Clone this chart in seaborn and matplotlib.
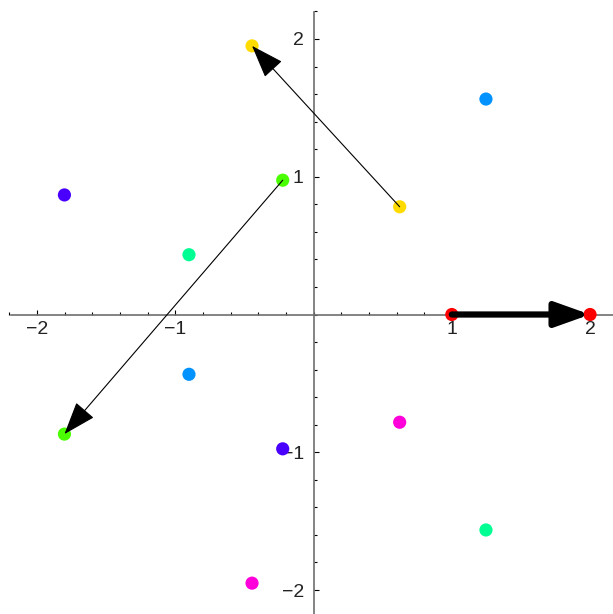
import matplotlib
matplotlib.use("Agg")
import matplotlib.pyplot as plt
from matplotlib.patches import FancyArrowPatch
from matplotlib.ticker import MultipleLocator, FixedLocator
import colorsys
import pandas as pd
import seaborn as sns

# Seventh roots of unity (colour index k) and their images 2*z^2
hue_index = [0, 1, 2, 3, 4, 5, 6]
root_x = [1.0, 0.623, -0.223, -0.901, -0.901, -0.223, 0.623]
root_y = [0.0, 0.782, 0.975, 0.434, -0.434, -0.975, -0.782]
image_x = [2.0, -0.445, -1.802, 1.247, 1.247, -1.802, -0.445]
image_y = [0.0, 1.950, -0.868, -1.564, 1.564, 0.868, -1.950]

# Which root -> image pairs get an arrow, and the arrow stroke width (pt)
arrow_index = [0, 1, 2]
arrow_width = [4.5, 0.8, 0.8]

tick_values = [-2, -1, 1, 2]
tick_labels = ["\u22122", "\u22121", "1", "2"]

palette = {k: colorsys.hsv_to_rgb(k / 7, 1.0, 1.0) for k in hue_index}

points = pd.DataFrame({
    "x": root_x + image_x,
    "y": root_y + image_y,
    "k": hue_index + hue_index,
})

sns.set_style("white")
plt.rcParams["font.family"] = ["Liberation Sans", "DejaVu Sans"]

fig = plt.figure(figsize=(6.13, 6.14), dpi=100)
ax = fig.add_axes([0, 0, 1, 1])

sns.scatterplot(data=points, x="x", y="y", hue="k", palette=palette,
                s=90, linewidth=0, legend=False, ax=ax, zorder=3)

for i, lw in zip(arrow_index, arrow_width):
    arr = FancyArrowPatch((root_x[i], root_y[i]), (image_x[i], image_y[i]),
                          arrowstyle="-|>,head_length=21,head_width=7.5",
                          mutation_scale=1, shrinkA=0, shrinkB=0,
                          color="black", linewidth=lw, zorder=4)
    ax.add_patch(arr)

ax.set_xlim(-2.268, 2.166)
ax.set_ylim(-2.174, 2.283)
ax.set_xlabel("")
ax.set_ylabel("")

axis_color = "#6e6e6e"
for side in ("top", "right"):
    ax.spines[side].set_visible(False)
ax.spines["left"].set_position(("data", 0))
ax.spines["bottom"].set_position(("data", 0))
ax.spines["bottom"].set_bounds(-2.19, 2.166)
ax.spines["left"].set_bounds(-2.174, 2.196)
for side in ("left", "bottom"):
    ax.spines[side].set_color(axis_color)
    ax.spines[side].set_linewidth(1.2)
    ax.spines[side].set_zorder(1)

ax.xaxis.set_major_locator(FixedLocator(tick_values))
ax.yaxis.set_major_locator(FixedLocator(tick_values))
ax.set_xticklabels(tick_labels)
ax.set_yticklabels(tick_labels)
ax.xaxis.set_minor_locator(MultipleLocator(0.2))
ax.yaxis.set_minor_locator(MultipleLocator(0.2))
ax.tick_params(which="major", direction="in", length=3.6, width=0.8,
               color="black", labelsize=14, labelcolor="#222222")
ax.tick_params(which="minor", direction="in", length=2.2, width=0.8,
               color="black")
ax.tick_params(axis="x", which="major", pad=5)
ax.tick_params(axis="y", which="major", pad=7)
ax.tick_params(bottom=True, left=True, which="both")

fig.savefig("out.png", dpi=100, facecolor="white")
